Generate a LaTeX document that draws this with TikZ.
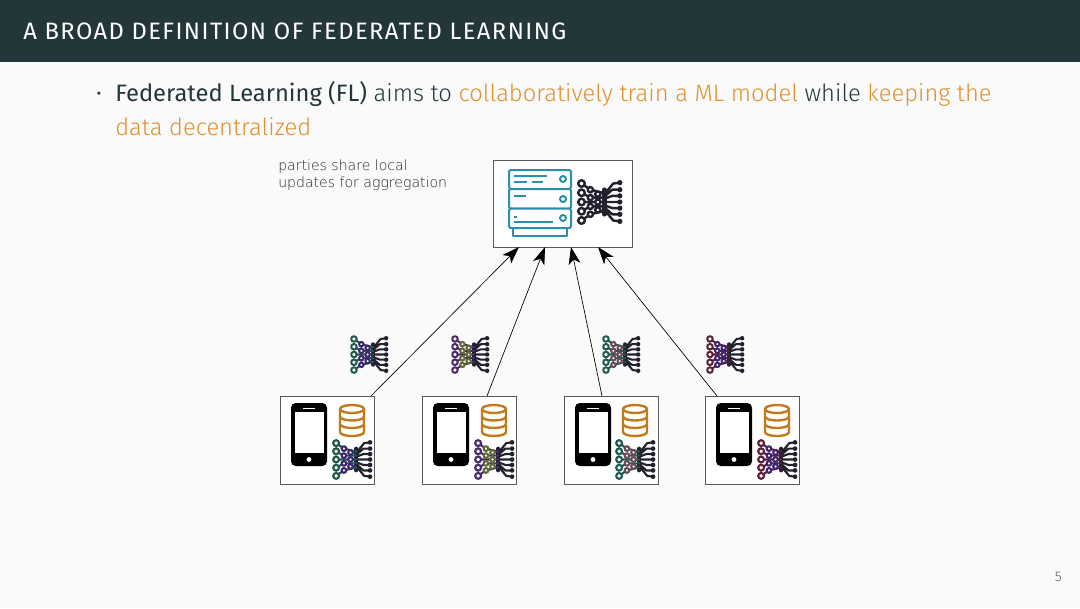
\documentclass[tikz,border=0pt]{standalone}
\usepackage{fontspec}
\setmainfont{Fira Sans Light}
\newfontfamily\titlefont[LetterSpace=6]{Fira Sans}
\newfontfamily\boldishfont{Fira Sans}
\newfontfamily\notefont{DejaVu Sans ExtraLight}
\usepackage{tikz}
\usetikzlibrary{arrows.meta}
\definecolor{headbar}{HTML}{23373B}
\definecolor{pagebg}{HTML}{FAFAFA}
\definecolor{accent}{HTML}{E0912F}
\definecolor{serverblue}{HTML}{2A8FA8}
\definecolor{dbbrown}{HTML}{C47A1C}
\definecolor{netdark}{HTML}{22222F}
\definecolor{netgreen}{HTML}{1F5A48}
\definecolor{netpurple}{HTML}{3E2470}
\definecolor{netmagenta}{HTML}{4A2A68}
\definecolor{netolive}{HTML}{5E6A38}
\definecolor{netteal}{HTML}{1F5A50}
\definecolor{netrose}{HTML}{6A4A58}
\definecolor{netpink}{HTML}{5A2038}
\tikzset{
  partybox/.style={draw=black!65, line width=0.6pt, fill=white, minimum width=70.5pt, minimum height=66pt, inner sep=0pt, anchor=north west},
  serverbox/.style={draw=black!65, line width=0.6pt, fill=white, minimum width=104pt, minimum height=65pt, inner sep=0pt, anchor=north west},
  updatearrow/.style={draw=black, line width=0.5pt, -{Stealth[length=13pt,width=9pt,inset=3.5pt]}}
}
% neural net icon, #1,#2 = top left, #3 = size, #4 = left colour, #5 = middle colour
\newcommand{\neticon}[5]{
  \begin{scope}[shift={(#1,#2)}, x=#3*0.75pt, y=-#3*0.75pt, line width=0.055*#3*0.75pt, line cap=round, line join=round]
    \draw[netdark] (0.62,0.5) -- (0.95,0.5) (0.62,0.42) -- (0.78,0.36) -- (0.95,0.36) (0.62,0.58) -- (0.78,0.64) -- (0.95,0.64)
      (0.62,0.36) -- (0.78,0.22) -- (0.95,0.22) (0.62,0.64) -- (0.78,0.78) -- (0.95,0.78) (0.62,0.3) -- (0.8,0.08) -- (0.95,0.06) (0.62,0.7) -- (0.8,0.92) -- (0.95,0.94);
    \fill[netdark] (0.95,0.06) circle (0.06) (0.95,0.22) circle (0.06) (0.95,0.36) circle (0.06) (0.95,0.5) circle (0.06) (0.95,0.64) circle (0.06) (0.95,0.78) circle (0.06) (0.95,0.94) circle (0.06);
    \draw[netdark, line width=0.1*#3*0.75pt] (0.6,0.22) -- (0.6,0.78);
    \draw[#4] (0.08,0.08) -- (0.28,0.22) -- (0.6,0.3) (0.08,0.29) -- (0.28,0.4) -- (0.6,0.4) (0.08,0.5) -- (0.6,0.5) (0.08,0.71) -- (0.28,0.6) -- (0.6,0.6) (0.08,0.92) -- (0.28,0.78) -- (0.6,0.7);
    \draw[#4, fill=white] (0.08,0.08) circle (0.075) (0.08,0.29) circle (0.075) (0.08,0.5) circle (0.075) (0.08,0.71) circle (0.075) (0.08,0.92) circle (0.075);
    \draw[#5, fill=white] (0.28,0.22) circle (0.06) (0.28,0.4) circle (0.06) (0.28,0.6) circle (0.06) (0.28,0.78) circle (0.06) (0.45,0.32) circle (0.06) (0.45,0.5) circle (0.06) (0.45,0.68) circle (0.06);
  \end{scope}
}
% phone icon, #1,#2 = top left
\newcommand{\phoneicon}[2]{
  \begin{scope}[shift={(#1,#2)}]
    \fill[black, rounded corners=3.5pt] (0,0) rectangle (36,63);
    \fill[white] (3.5,9) rectangle (32.5,50);
    \fill[white] (12,4.5) rectangle (24,6);
    \fill[white] (18,56.5) circle (2.4);
  \end{scope}
}
% database icon, #1,#2 = top left
\newcommand{\dbicon}[2]{
  \begin{scope}[shift={(#1,#2)}, draw=dbbrown, line width=1.8pt]
    \draw (0,5) arc[start angle=180, end angle=360, x radius=12, y radius=4] -- (24,28) arc[start angle=0, end angle=180, x radius=12, y radius=4] -- cycle;
    \draw (0,5) arc[start angle=180, end angle=0, x radius=12, y radius=4];
    \draw (0,12.5) arc[start angle=180, end angle=0, x radius=12, y radius=4];
    \draw (0,20) arc[start angle=180, end angle=0, x radius=12, y radius=4];
  \end{scope}
}
\begin{document}
\begin{tikzpicture}[x=0.75pt, y=-0.75pt]
  \useasboundingbox (0,0) rectangle (1080,608);
  \fill[pagebg] (0,0) rectangle (1080,608);
  \fill[headbar] (0,0) rectangle (1080,62);
  \node[anchor=west, text=white, inner sep=0pt] (title) at (23,31) {\titlefont\fontsize{17.8pt}{20pt}\selectfont A BROAD DEFINITION OF FEDERATED LEARNING};
  \node[anchor=base west, text=headbar, inner sep=0pt] (bullet) at (96,100) {\boldishfont\fontsize{16.5pt}{20pt}\selectfont ·};
  \node[anchor=base west, inner sep=0pt, text=headbar] (lineone) at (115,101) {\fontsize{17.8pt}{20pt}\selectfont {\boldishfont Federated Learning (FL)} aims to \textcolor{accent}{collaboratively train a ML model} while \textcolor{accent}{keeping the}};
  \node[anchor=base west, inner sep=0pt, text=accent] (linetwo) at (115,135) {\fontsize{17.8pt}{20pt}\selectfont data decentralized};
  \node[anchor=base west, inner sep=0pt, text=black!85] (noteone) at (278,170) {\notefont\fontsize{10.55pt}{13pt}\selectfont parties share local};
  \node[anchor=base west, inner sep=0pt, text=black!85] (notetwo) at (278,187) {\notefont\fontsize{10.55pt}{13pt}\selectfont updates for aggregation};

  \node[serverbox] (server) at (493,160) {};
  \node[partybox] (partya) at (280,396) {};
  \node[partybox] (partyb) at (422,396) {};
  \node[partybox] (partyc) at (564,396) {};
  \node[partybox] (partyd) at (705,396) {};

  % server stack
  \begin{scope}[shift={(509,170)}, draw=serverblue, line width=1.5pt, line join=round]
    \draw (4,58) rectangle (58,65.5);
    \draw[rounded corners=1.5pt, fill=white] (0,0) rectangle (62,19);
    \draw[rounded corners=1.5pt, fill=white] (0,19) rectangle (62,38.5);
    \draw[rounded corners=1.5pt, fill=white] (0,38.5) rectangle (62,58);
    \draw (5,6) -- (38,6) (5,12) -- (18,12) (23,12) -- (34,12) (5,26) -- (17,26) (5,52) -- (44,52) (5,47) -- (8,47);
    \draw (54,9) circle (3) (54,29) circle (3) (54,48) circle (3);
  \end{scope}
  \neticon{578}{180}{44}{netdark}{netdark}

  \neticon{351}{336}{37}{netgreen}{netpurple}
  \neticon{452}{336}{37}{netmagenta}{netolive}
  \neticon{603}{336}{37}{netteal}{netrose}
  \neticon{707}{336}{37}{netpink}{netpurple}

  \phoneicon{291}{403}
  \dbicon{340}{404}
  \neticon{333}{440}{39}{netgreen}{netpurple}
  \phoneicon{433}{403}
  \dbicon{482}{404}
  \neticon{475}{440}{39}{netmagenta}{netolive}
  \phoneicon{575}{403}
  \dbicon{623}{404}
  \neticon{616}{440}{39}{netteal}{netrose}
  \phoneicon{716}{403}
  \dbicon{765}{404}
  \neticon{758}{440}{39}{netpink}{netpurple}

  \coordinate (aout) at (371,396); \coordinate (bout) at (487,396); \coordinate (cout) at (602,396); \coordinate (dout) at (717,396);
  \coordinate (ain) at (519,247); \coordinate (bin) at (545,247); \coordinate (cin) at (571,247); \coordinate (din) at (598,247);
  \draw[updatearrow] (aout) -- (ain);
  \draw[updatearrow] (bout) -- (bin);
  \draw[updatearrow] (cout) -- (cin);
  \draw[updatearrow] (dout) -- (din);

  \node[anchor=base east, inner sep=0pt, text=headbar!80] (pagenum) at (1062,581) {\fontsize{10.5pt}{12pt}\selectfont 5};
\end{tikzpicture}
\end{document}
